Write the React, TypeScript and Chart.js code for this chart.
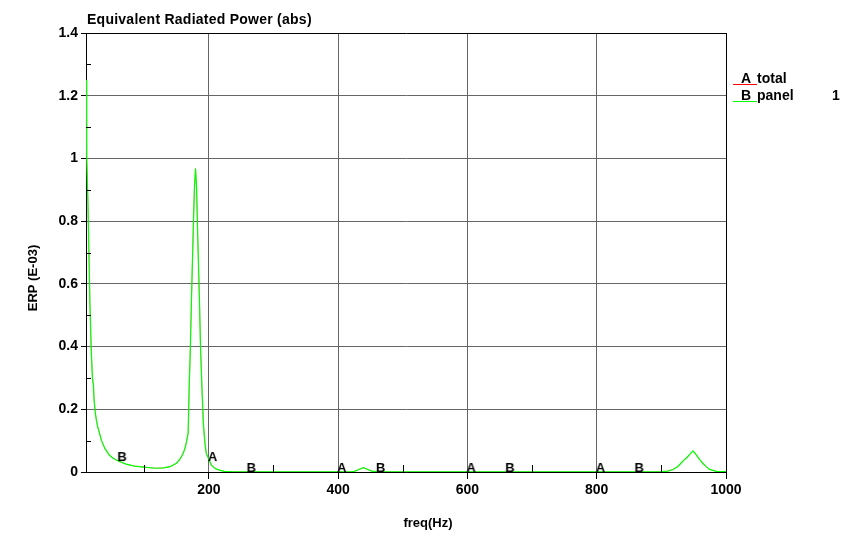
import React, { useEffect, useRef } from 'react';
import { Chart, registerables } from 'chart.js';

Chart.register(...registerables);

// ---- data ----
const freqHz = [
  10, 10.5, 11.5, 13, 14.5, 16, 18, 20, 21.5, 22.5, 24.5, 26, 28, 31, 34, 39, 46, 52, 60, 72, 85, 103, 119, 130,
  140, 150, 155, 158, 161, 163.5, 165.5, 168, 169.5, 171.5, 173, 174.5, 176, 177.8, 179.4, 181, 182.5, 184, 185.6,
  187.1, 189.5, 191.5, 194, 196, 199, 201, 204, 208, 212, 218, 224, 235, 260, 300, 350, 400, 420, 425, 432, 439,
  446, 452, 460, 500, 600, 700, 800, 880, 900, 910, 918, 925, 930, 935, 940, 943, 946, 949, 952, 956, 960, 964,
  969, 974, 980, 985, 1000,
];
const panelErp = [
  1.25, 1.17, 1.01, 0.857, 0.703, 0.543, 0.394, 0.299, 0.277, 0.23, 0.187, 0.166, 0.145, 0.123, 0.1, 0.076, 0.054,
  0.044, 0.035, 0.025, 0.019, 0.015, 0.012, 0.013, 0.017, 0.028, 0.04, 0.05, 0.063, 0.078, 0.097, 0.124, 0.261, 0.4,
  0.539, 0.66, 0.782, 0.906, 0.968, 0.91, 0.78, 0.66, 0.539, 0.4, 0.261, 0.155, 0.092, 0.06, 0.045, 0.035, 0.022,
  0.014, 0.009, 0.005, 0.002, 0.001, 0.0005, 0.0003, 0.0003, 0.0003, 0.0005, 0.002, 0.008, 0.014, 0.008, 0.003,
  0.001, 0.0003, 0.0003, 0.0003, 0.0003, 0.0003, 0.001, 0.003, 0.008, 0.017, 0.027, 0.038, 0.047, 0.054, 0.061,
  0.067, 0.06, 0.049, 0.038, 0.028, 0.018, 0.009, 0.005, 0.002, 0.001,
];
const totalErp = [...panelErp];

const xTickValues = [200, 400, 600, 800, 1000];
const xTickLabels = ['200', '400', '600', '800', '1000'];
const xMinorTicks = [100, 300, 500, 700, 900];
const yTickValues = [0, 0.2, 0.4, 0.6, 0.8, 1, 1.2, 1.4];
const yTickLabels = ['0', '0.2', '0.4', '0.6', '0.8', '1', '1.2', '1.4'];
const yMinorTicks = [0.1, 0.3, 0.5, 0.7, 0.9, 1.1, 1.3];

const markerAFreq = [200, 400, 600, 800];
const markerAValues = [0.035, 0, 0, 0];
const markerBFreq = [60, 260, 460, 660, 860];
const markerBValues = [0.035, 0, 0, 0, 0];

const seriesNames = ['total', 'panel'];
const seriesLetters = ['A', 'B'];
const seriesColors = ['#ff0000', '#00ff00'];

const chartTitle = 'Equivalent Radiated Power (abs)';
const xTitle = 'freq(Hz)';
const yTitle = 'ERP (E-03)';

const FONT = '"Liberation Sans", Arial, Helvetica, sans-serif';
const GRID = '#666666';

function letterImage(letter: string): HTMLCanvasElement {
  const c = document.createElement('canvas');
  c.width = 24;
  c.height = 30;
  const g = c.getContext('2d')!;
  g.font = `bold 13px ${FONT}`;
  g.fillStyle = '#000';
  g.textAlign = 'left';
  g.textBaseline = 'alphabetic';
  g.fillText(letter, 12 - 1, 15);
  return c;
}

const decorPlugin = {
  id: 'decor',
  afterDraw(chart: any) {
    const { ctx, chartArea, scales } = chart;
    const xs = scales.x;
    const ys = scales.y;
    ctx.save();
    // minor ticks
    ctx.strokeStyle = '#000';
    ctx.lineWidth = 1;
    ctx.beginPath();
    xMinorTicks.forEach((v) => {
      const px = Math.round(xs.getPixelForValue(v)) + 0.5;
      ctx.moveTo(px, chartArea.bottom);
      ctx.lineTo(px, chartArea.bottom - 7);
    });
    yMinorTicks.forEach((v) => {
      const py = Math.round(ys.getPixelForValue(v)) + 0.5;
      ctx.moveTo(chartArea.left, py);
      ctx.lineTo(chartArea.left + 5, py);
    });
    ctx.stroke();

    // titles
    ctx.fillStyle = '#000';
    ctx.font = `bold 14px ${FONT}`;
    ctx.textAlign = 'left';
    ctx.textBaseline = 'alphabetic';
    (ctx as any).letterSpacing = '0.25px';
    ctx.fillText(chartTitle, chartArea.left + 1, 24);
    (ctx as any).letterSpacing = '0px';

    ctx.font = `bold 13px ${FONT}`;
    ctx.textAlign = 'center';
    ctx.textBaseline = 'middle';
    ctx.fillText(xTitle, chartArea.left + 342, 523);

    ctx.save();
    ctx.translate(33, 278);
    ctx.rotate(-Math.PI / 2);
    ctx.fillText(yTitle, 0, 0);
    ctx.restore();

    // legend
    const lx = chartArea.right + 7;
    seriesNames.forEach((name, i) => {
      const ty = 79 + i * 17;
      ctx.strokeStyle = seriesColors[i];
      ctx.beginPath();
      ctx.moveTo(lx, Math.round(ty + 5) + 0.5);
      ctx.lineTo(lx + 24, Math.round(ty + 5) + 0.5);
      ctx.stroke();
      ctx.fillStyle = '#000';
      ctx.font = `bold 14px ${FONT}`;
      ctx.textAlign = 'left';
      ctx.textBaseline = 'middle';
      ctx.fillText(seriesLetters[i], lx + 8, ty);
      ctx.fillText(name, lx + 24, ty);
      if (i === 1) ctx.fillText('1', lx + 99, ty);
    });
    ctx.restore();
  },
};

export default function App() {
  const ref = useRef<HTMLCanvasElement | null>(null);

  useEffect(() => {
    document.body.style.margin = '0';
    const canvas = ref.current!;
    const imgA = letterImage('A');
    const imgB = letterImage('B');
    const chart = new Chart(canvas, {
      type: 'line',
      data: {
        datasets: [
          {
            label: 'A marks',
            data: markerAFreq.map((f, i) => ({ x: f, y: markerAValues[i] })),
            showLine: false,
            pointStyle: imgA as any,
            pointRadius: 5,
            clip: false as any,
            order: 0,
          },
          {
            label: 'B marks',
            data: markerBFreq.map((f, i) => ({ x: f, y: markerBValues[i] })),
            showLine: false,
            pointStyle: imgB as any,
            pointRadius: 5,
            clip: false as any,
            order: 0,
          },
          {
            label: seriesNames[1],
            data: freqHz.map((f, i) => ({ x: f, y: panelErp[i] })),
            borderColor: seriesColors[1],
            borderWidth: 1.2,
            pointRadius: 0,
            tension: 0,
            fill: false,
            order: 1,
          },
          {
            label: seriesNames[0],
            data: freqHz.map((f, i) => ({ x: f, y: totalErp[i] })),
            borderColor: seriesColors[0],
            borderWidth: 0.4,
            pointRadius: 0,
            tension: 0,
            fill: false,
            order: 2,
          },
        ],
      },
      options: {
        animation: false,
        responsive: false,
        events: [],
        layout: { padding: { left: 0, top: 33, right: 133, bottom: 0 } },
        plugins: {
          legend: { display: false },
          title: { display: false },
          tooltip: { enabled: false },
        },
        scales: {
          x: {
            type: 'linear',
            min: 10,
            max: 1000,
            afterBuildTicks: (s: any) => {
              s.ticks = xTickValues.map((v) => ({ value: v }));
            },
            afterFit: (s: any) => {
              s.height = 77;
            },
            ticks: {
              autoSkip: false,
              maxRotation: 0,
              padding: 3,
              color: '#000',
              font: { family: FONT, size: 14, weight: 'bold' },
              callback: (v: any) => xTickLabels[xTickValues.indexOf(Number(v))],
            },
            grid: {
              color: (c: any) => (c.tick && c.tick.value === 1000 ? '#000' : GRID),
              tickColor: '#000',
              tickLength: 7,
              lineWidth: 1,
            },
            border: { display: true, color: '#000', width: 1 },
          },
          y: {
            type: 'linear',
            min: 0,
            max: 1.4,
            afterBuildTicks: (s: any) => {
              s.ticks = yTickValues.map((v) => ({ value: v }));
            },
            afterFit: (s: any) => {
              s.width = 86;
            },
            ticks: {
              autoSkip: false,
              padding: 3,
              color: '#000',
              font: { family: FONT, size: 14, weight: 'bold' },
              callback: (v: any) => {
                const i = yTickValues.findIndex((t) => Math.abs(t - Number(v)) < 1e-9);
                return i >= 0 ? yTickLabels[i] : '';
              },
            },
            grid: {
              color: (c: any) => (c.tick && Math.abs(c.tick.value - 1.4) < 1e-9 ? '#000' : GRID),
              tickColor: '#000',
              tickLength: 5,
              lineWidth: 1,
            },
            border: { display: true, color: '#000', width: 1 },
          },
        },
      },
      plugins: [decorPlugin],
    });
    return () => chart.destroy();
  }, []);

  return (
    <div style={{ width: 859, height: 549, background: '#fff' }}>
      <canvas ref={ref} width={859} height={549} />
    </div>
  );
}
